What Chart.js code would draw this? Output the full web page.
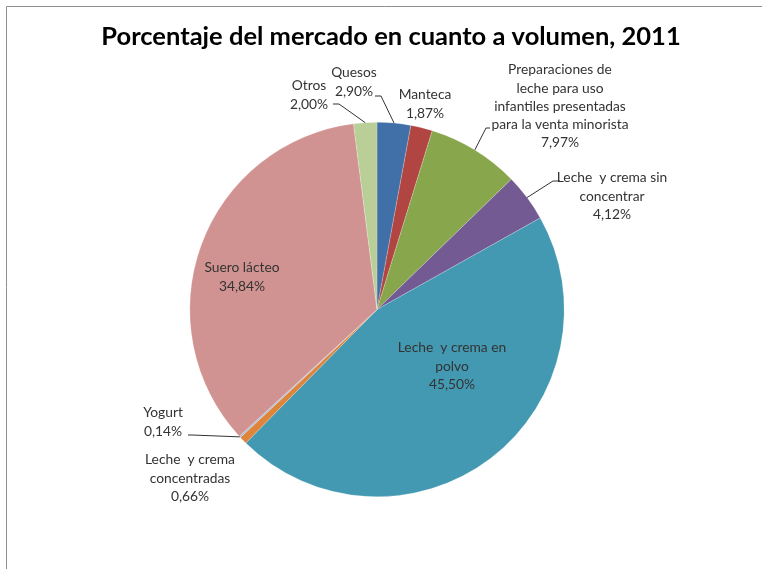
<!DOCTYPE html>
<html>
<head>
<meta charset="utf-8">
<script src="https://cdn.jsdelivr.net/npm/chart.js@4.4.1/dist/chart.umd.min.js"></script>
<style>
  body { margin: 0; background: #fff; }
  #wrap { width: 762px; height: 569px; }
</style>
</head>
<body>
<div id="wrap"><canvas id="pie" width="762" height="569"></canvas></div>
<script>
const categories = [
    "Quesos",
    "Manteca",
    "Preparaciones de leche para uso infantiles presentadas para la venta minorista",
    "Leche  y crema sin concentrar",
    "Leche  y crema en polvo",
    "Leche  y crema concentradas",
    "Yogurt",
    "Suero lácteo",
    "Otros"
];
const shares = [2.90, 1.87, 7.97, 4.12, 45.50, 0.66, 0.14, 34.84, 2.00];
const sliceColors = ["#4170A8", "#B04542", "#88A64C", "#735A93", "#4399B1", "#DE853B", "#A6BBD8", "#D09391", "#BACF97"];

// label text lines (without the value) and where each block sits
const labelLines = [
    ["Quesos"],
    ["Manteca"],
    ["Preparaciones de", "leche para uso", "infantiles presentadas", "para la venta minorista"],
    ["Leche  y crema sin", "concentrar"],
    ["Leche  y crema en", "polvo"],
    ["Leche  y crema", "concentradas"],
    ["Yogurt"],
    ["Suero lácteo"],
    ["Otros"]
];
const labelPos = [
    { x: 354, y: 73, leader: [[375, 96], [381, 96]] },
    { x: 425, y: 95 },
    { x: 560, y: 70, leader: [[490, 128], [486, 128]] },
    { x: 612, y: 178, leader: [[560, 181], [553, 181]] },
    { x: 452, y: 348 },
    { x: 190, y: 460 },
    { x: 163, y: 413, leader: [[188, 435], [192, 435]] },
    { x: 242, y: 268 },
    { x: 309, y: 86, leader: [[333, 104], [339, 104]] }
];
const titleText = "Porcentaje del mercado en cuanto a volumen, 2011";

function fmt(v) {
    return v.toFixed(2).replace(".", ",") + "%";
}

const framePlugin = {
    id: "frame",
    beforeDraw(chart) {
        const ctx = chart.ctx;
        ctx.save();
        ctx.strokeStyle = "#8f8f8f";
        ctx.lineWidth = 1;
        ctx.beginPath();
        ctx.moveTo(762, 6.5);
        ctx.lineTo(6.5, 6.5);
        ctx.lineTo(6.5, 569);
        ctx.stroke();

        ctx.fillStyle = "#000";
        ctx.font = "bold 25.5px Lato";
        ctx.textAlign = "center";
        ctx.textBaseline = "middle";
        ctx.fillText(titleText, 391, 37);
        ctx.restore();
    }
};

const labelPlugin = {
    id: "sliceLabels",
    afterDatasetsDraw(chart) {
        const ctx = chart.ctx;
        const arcs = chart.getDatasetMeta(0).data;
        ctx.save();
        ctx.font = "13.8px Lato";
        ctx.fillStyle = "#333";
        ctx.textAlign = "center";
        ctx.textBaseline = "middle";

        arcs.forEach((arc, i) => {
            const pos = labelPos[i];
            const lines = labelLines[i].concat([fmt(shares[i])]);
            lines.forEach((t, k) => {
                ctx.fillText(t, pos.x, pos.y + k * 18.2);
            });

            if (pos.leader) {
                const p = arc.getProps(["x", "y", "startAngle", "endAngle", "outerRadius"], true);
                const mid = (p.startAngle + p.endAngle) / 2;
                const ex = p.x + Math.cos(mid) * p.outerRadius;
                const ey = p.y + Math.sin(mid) * p.outerRadius;
                ctx.strokeStyle = "#333";
                ctx.lineWidth = 1;
                ctx.beginPath();
                ctx.moveTo(pos.leader[0][0], pos.leader[0][1]);
                ctx.lineTo(pos.leader[1][0], pos.leader[1][1]);
                ctx.lineTo(ex, ey);
                ctx.stroke();
            }
        });
        ctx.restore();
    }
};

new Chart(document.getElementById("pie"), {
    type: "pie",
    data: {
        labels: categories,
        datasets: [{
            data: shares,
            backgroundColor: sliceColors,
            borderColor: "rgba(255,255,255,0.35)",
            borderWidth: 0.6
        }]
    },
    options: {
        responsive: false,
        animation: false,
        layout: { padding: { top: 122, bottom: 72, left: 0, right: 8 } },
        plugins: {
            legend: { display: false },
            tooltip: { enabled: false },
            title: { display: false }
        }
    },
    plugins: [framePlugin, labelPlugin]
});
</script>
</body>
</html>
